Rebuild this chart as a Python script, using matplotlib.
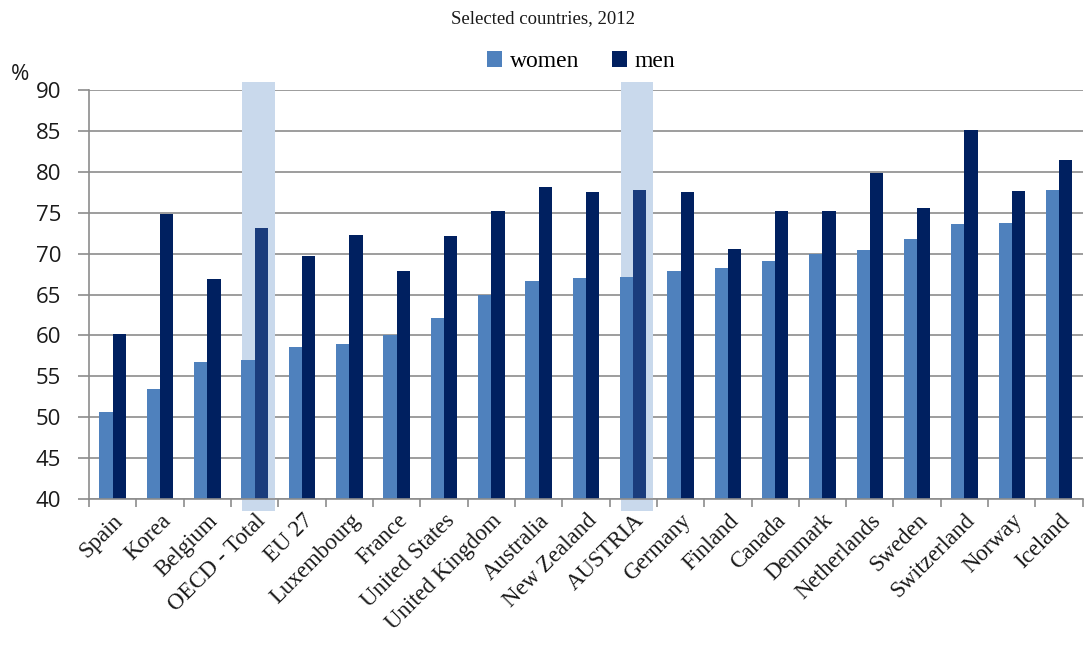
import numpy as np
import matplotlib.pyplot as plt
from matplotlib.patches import Rectangle

countries = ["Spain", "Korea", "Belgium", "OECD - Total", "EU 27", "Luxembourg",
             "France", "United States", "United Kingdom", "Australia", "New Zealand",
             "AUSTRIA", "Germany", "Finland", "Canada", "Denmark", "Netherlands",
             "Sweden", "Switzerland", "Norway", "Iceland"]
women = [50.6, 53.4, 56.8, 57.0, 58.6, 59.0, 60.0, 62.1, 65.0, 66.6, 67.0,
         67.2, 67.9, 68.2, 69.1, 70.0, 70.4, 71.8, 73.6, 73.7, 77.8]
men = [60.2, 74.9, 66.9, 73.1, 69.7, 72.3, 67.9, 72.2, 75.2, 78.1, 77.5,
       77.8, 77.5, 70.6, 75.2, 75.2, 79.8, 75.6, 85.1, 77.6, 81.4]
highlight = ["OECD - Total", "AUSTRIA"]

serif = "Liberation Serif"
c_women = "#4f81bd"
c_men = "#002060"
c_men_hl = "#1a3c7c"
c_hl = "#c9d9ec"
grid_c = "#8c8c8c"

fig = plt.figure(figsize=(10.86, 6.48), dpi=100)
ax = fig.add_axes([0.082, 0.230, 0.915, 0.631])

x = np.arange(len(countries))
w = 0.28

# highlight bands behind bars
for name in highlight:
    i = countries.index(name)
    ax.add_patch(Rectangle((i - w + 0.02, 38.5), 0.68, 52.5, facecolor=c_hl,
                           edgecolor="none", zorder=1, clip_on=False))

ax.bar(x - w / 2, np.array(women) - 40, w, bottom=40, color=c_women, zorder=2, label="women")
men_cols = [c_men_hl if c in highlight else c_men for c in countries]
ax.bar(x + w / 2, np.array(men) - 40, w, bottom=40, color=men_cols, zorder=2, label="men")

ax.set_ylim(40, 90)
ax.set_xlim(-0.5, len(countries) - 0.5)
ax.set_yticks(range(40, 91, 5))
ax.yaxis.grid(True, color=grid_c, linewidth=1.2, zorder=0)
ax.set_axisbelow(True)

for s in ["top", "right"]:
    ax.spines[s].set_visible(False)
for s in ["left", "bottom"]:
    ax.spines[s].set_color(grid_c)
    ax.spines[s].set_linewidth(1.2)
    ax.spines[s].set_zorder(3)

ax.set_xticks(np.arange(len(countries) + 1) - 0.5, minor=False)
ax.set_xticklabels([])
ax.set_xticks(x, minor=True)
ax.set_xticklabels(countries, minor=True, rotation=45, ha="right", rotation_mode="anchor",
                   fontfamily=serif, fontsize=16.5, color="#1a1a1a")
ax.tick_params(axis="x", which="major", length=6, color=grid_c, width=1.2)
ax.tick_params(axis="x", which="minor", length=0, pad=8)
ax.tick_params(axis="y", length=8, color=grid_c, width=1.2, labelsize=16, pad=12)
for lab in ax.get_yticklabels():
    lab.set_fontfamily("Open Sans")
    lab.set_color("#1a1a1a")

fig.text(0.5, 0.972, "Selected countries, 2012", ha="center", va="center",
         fontfamily=serif, fontsize=13.5, color="#1a1a1a")
fig.text(0.01, 0.885, "%", ha="left", va="center", fontfamily="Open Sans",
         fontsize=16, color="#1a1a1a")

h, l = ax.get_legend_handles_labels()
leg = fig.legend(h, l, loc="center", bbox_to_anchor=(0.535, 0.905), ncol=2, frameon=False,
                 prop={"family": serif, "size": 17}, handlelength=0.65, handleheight=0.65,
                 handletextpad=0.3, columnspacing=1.4)

fig.savefig("out.png", dpi=100)
